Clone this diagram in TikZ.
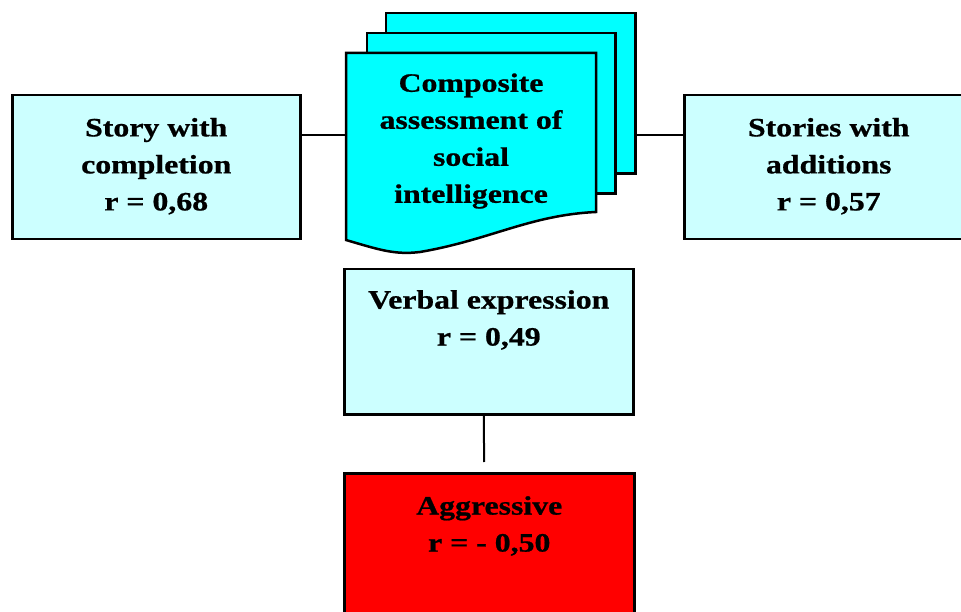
\documentclass[tikz,border=0pt]{standalone}
\usepackage{fontspec}
\setmainfont{Liberation Serif}[FakeStretch=1.2, BoldFeatures={FakeBold=0.8}]
\definecolor{paleCyan}{HTML}{CCFFFF}
\definecolor{docCyan}{HTML}{00FFFF}
\definecolor{hotRed}{HTML}{FF0000}
\tikzset{
  box/.style={draw=black, line width=2.5pt, rectangle, anchor=north west, inner sep=0pt},
  pale/.style={box, fill=paleCyan},
  page/.style={draw=black, line width=2.5pt, fill=docCyan, line join=miter},
  lbl/.style={font=\bfseries\fontsize{26.5}{37}\selectfont, align=center, inner sep=0pt},
  link/.style={draw=black, line width=2pt},
}
\begin{document}
\begin{tikzpicture}[x=1pt, y=-1pt]
  \useasboundingbox (0,0) rectangle (961,612);
  \clip (0,0) rectangle (961,612);

  % side boxes
  \node[pale, minimum width=288pt, minimum height=144pt] (left) at (11,94) {};
  \node[lbl] at ([yshift=1pt]left.center) {Story with\\completion\\r = 0,68};
  \node[pale, minimum width=289pt, minimum height=144pt] (right) at (683,94) {};
  \node[lbl] at ([yshift=1pt]right.center) {Stories with\\additions\\r = 0,57};

  % stacked documents
  \node[inner sep=0pt, minimum width=249pt, minimum height=160pt, anchor=north west] (back) at (386,13) {};
  \node[inner sep=0pt, minimum width=248pt, minimum height=160pt, anchor=north west] (middle) at (367,33) {};
  \node[inner sep=0pt, minimum width=250pt, minimum height=187pt, anchor=north west] (front) at (346,53) {};
  \path[page] (back.north west) rectangle (back.south east);
  \path[page] (middle.north west) rectangle (middle.south east);
  \path[page] (346,53) -- (596,53) -- (596,212)
     .. controls (530,215) and (490,240) .. (420,252)
     .. controls (395,255) and (380,250) .. (346,240) -- cycle;
  \node[lbl] at (471,141) {Composite\\assessment of\\social\\intelligence};

  % centre boxes
  \node[pale, minimum width=289pt, minimum height=145pt] (verbal) at (343,268) {};
  \node[lbl, anchor=north] at ([yshift=-22pt]verbal.north) {Verbal expression\\r = 0,49};
  \node[box, fill=hotRed, minimum width=290pt, minimum height=160pt] (aggr) at (343,472) {};
  \node[lbl, anchor=north] at ([yshift=-24pt]aggr.north) {Aggressive\\r = - 0,50};

  % connectors
  \coordinate (hub) at (0,135);
  \draw[link] (left.east |- hub) -- (front.west |- hub);
  \draw[link] (back.east |- hub) -- (right.west |- hub);
  \draw[link, shorten >=10pt] ([xshift=-5pt]verbal.south) -- ([xshift=-5pt]aggr.north);
\end{tikzpicture}
\end{document}
